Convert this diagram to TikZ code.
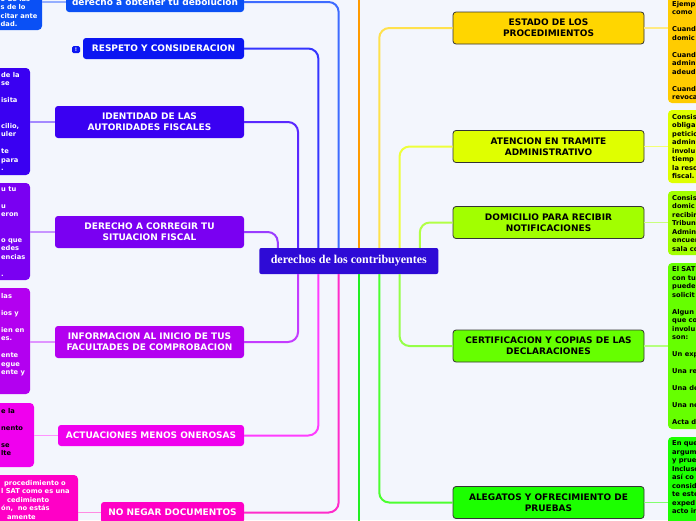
\documentclass[tikz,border=0pt]{standalone}
\usepackage{fontspec}
\setmainfont{DejaVu Sans}
\newfontfamily\rootfamily{Liberation Serif}
\newcommand{\rootfont}{\rootfamily\bfseries\fontsize{12}{14}\selectfont}
\newcommand{\topicfont}{\bfseries\fontsize{9}{11}\selectfont}
\newcommand{\memofont}{\bfseries\fontsize{6.7}{8.5}\selectfont}
\newcommand{\memogap}{\mbox{}}

\definecolor{bg}{HTML}{F3F6FD}
\definecolor{rootc}{HTML}{2E0BD6}
\definecolor{cObt}{HTML}{0A50F5}
\definecolor{cRes}{HTML}{0B16F2}
\definecolor{cIde}{HTML}{3A00F2}
\definecolor{cCor}{HTML}{7A00F2}
\definecolor{cInf}{HTML}{B300F0}
\definecolor{cAct}{HTML}{F000EE}
\definecolor{cNeg}{HTML}{FF00C6}
\definecolor{cEst}{HTML}{FFD600}
\definecolor{cEstN}{HTML}{FFCC00}
\definecolor{cAte}{HTML}{DFFF00}
\definecolor{cDom}{HTML}{A2FF00}
\definecolor{cCer}{HTML}{66FF00}
\definecolor{cAle}{HTML}{1CFF00}
\definecolor{lObt}{HTML}{3D6BFF}
\definecolor{lRes}{HTML}{3535FF}
\definecolor{lIde}{HTML}{5A28FF}
\definecolor{lCor}{HTML}{9A3CFF}
\definecolor{lInf}{HTML}{C43CFF}
\definecolor{lAct}{HTML}{FF3CFF}
\definecolor{lNeg}{HTML}{FF2CCB}
\definecolor{lOra}{HTML}{FF9A00}
\definecolor{lGrn}{HTML}{22EE22}
\definecolor{lEst}{HTML}{FFE14D}
\definecolor{lAte}{HTML}{EEFF3A}
\definecolor{lDom}{HTML}{B2FF45}
\definecolor{lCer}{HTML}{95FF48}
\definecolor{lAle}{HTML}{4CFF30}

\begin{document}
\begin{tikzpicture}[x=1pt, y=-1pt,
    topic/.style={rounded corners=3pt, inner sep=0pt, align=center, font=\topicfont},
    lefttopic/.style={topic, text=white},
    righttopic/.style={topic, draw=black!80, line width=0.8pt, text=black, minimum width=191pt, minimum height=32pt},
    memo/.style={rounded corners=4pt, inner sep=0pt},
    memotext/.style={anchor=north west, inner sep=0pt, align=left, font=\memofont},
    trunk/.style={line width=2pt, rounded corners=10pt},
    twig/.style={line width=1.2pt}]
      \fill[bg] (0,0) rectangle (696,520);
      \useasboundingbox (0,0) rectangle (696,520);

      \node[fill=rootc, text=white, rounded corners=2pt, minimum width=179pt, minimum height=26pt, font=\rootfont] (root) at (348.8,261) {derechos de los contribuyentes};

      % left side
      \node[memo, fill=cObt, minimum width=102pt, minimum height=60pt] (obtenermemo) at (-9,0) {};
      \node[memo, fill=cIde, minimum width=90pt, minimum height=107pt] (identidadmemo) at (-15,121.5) {};
      \node[memo, fill=cCor, minimum width=90pt, minimum height=97pt] (corregirmemo) at (-15,231.5) {};
      \node[memo, fill=cInf, minimum width=90pt, minimum height=106pt] (iniciomemo) at (-15,341) {};
      \node[memo, fill=cAct, minimum width=94pt, minimum height=64pt] (onerosasmemo) at (-13,435) {};
      \node[memo, fill=cNeg, minimum width=138pt, minimum height=70pt] (negarmemo) at (9,510) {};

      \node[memotext, text=white] (obtenertext) at (0.5,-5) {\strut o de las\\s de lo\\citar ante\\dad.};
      \node[memotext, text=white] (identidadtext) at (1,71) {\strut de la\\se\\\memogap\\isita\\\memogap\\\memogap\\cilio,\\uler\\\memogap\\te\\para\\.};
      \node[memotext, text=white] (corregirtext) at (1,185) {\strut u tu\\\memogap\\u\\eron\\\memogap\\\memogap\\o que\\edes\\encias\\\memogap\\.};
      \node[memotext, text=white] (iniciotext) at (1,292) {\strut las\\\memogap\\ios y\\\memogap\\ien en\\es.\\\memogap\\ente\\egue\\ente y};
      \node[memotext, text=black] (onerosastext) at (1,407) {\strut e la\\\memogap\\nento\\\memogap\\se\\lte};
      \node[memotext, text=white] (negartext) at (1,479) {\strut\hspace*{3pt}procedimiento o\\l SAT como es una\\\hspace*{6pt}cedimiento\\ón,\ \ no estás\\\hspace*{6pt}amente};

      \node[lefttopic, fill=cObt, minimum width=178pt, minimum height=20pt] (obtener) at (155,2) {derecho a obtener tu debolucion};
      \node[lefttopic, fill=cRes, minimum width=161pt, minimum height=21pt] (respeto) at (163.5,48.5) {RESPETO Y CONSIDERACION};
      \node[fill=cRes, rounded corners=1.5pt, minimum width=8pt, minimum height=7pt, inner sep=0pt, text=white, font=\bfseries\fontsize{5}{5}\selectfont] (respetoflag) at (76,49.5) {!};
      \node[lefttopic, fill=cIde, minimum width=189pt, minimum height=32pt] (identidad) at (149.5,122) {IDENTIDAD DE LAS\\AUTORIDADES FISCALES};
      \node[lefttopic, fill=cCor, minimum width=189pt, minimum height=32pt] (corregir) at (149.5,232) {DERECHO A CORREGIR TU\\SITUACION FISCAL};
      \node[lefttopic, fill=cInf, minimum width=189pt, minimum height=32pt] (inicio) at (149.5,342) {INFORMACION AL INICIO DE TUS\\FACULTADES DE COMPROBACION};
      \node[lefttopic, fill=cAct, minimum width=186pt, minimum height=21pt] (onerosas) at (151,435.5) {ACTUACIONES MENOS ONEROSAS};
      \node[lefttopic, fill=cNeg, minimum width=143pt, minimum height=21pt] (negar) at (172.5,512.5) {NO NEGAR DOCUMENTOS};

      % right side
      \node[memo, fill=cEstN, minimum width=62pt, minimum height=123pt] (estadomemo) at (699,41.5) {};
      \node[memo, fill=cAte, minimum width=62pt, minimum height=73pt] (atencionmemo) at (699,146.5) {};
      \node[memo, fill=cDom, minimum width=62pt, minimum height=64pt] (domiciliomemo) at (699,223) {};
      \node[memo, fill=cCer, minimum width=62pt, minimum height=166pt] (certificacionmemo) at (699,346) {};
      \node[memo, fill=cAle, minimum width=62pt, minimum height=108pt] (alegatosmemo) at (699,491) {};

      \node[memotext] (estadotext) at (672,0) {\strut Ejemp\\como\\\memogap\\Cuand\\domic\\\memogap\\Cuand\\admin\\adeud\\\memogap\\Cuand\\revoca};
      \node[memotext] (atenciontext) at (672,113) {\strut Consis\\obliga\\peticio\\admin\\involu\\tiemp\\la reso\\fiscal.};
      \node[memotext] (domiciliotext) at (672,194) {\strut Consis\\domic\\recibir\\Tribun\\Admin\\encuen\\sala co};
      \node[memotext] (certificaciontext) at (672,265.5) {\strut El SAT\\con tu\\puede\\solicit\\\memogap\\Algun\\que co\\involu\\son:\\\memogap\\Un exp\\\memogap\\Una re\\\memogap\\Una de\\\memogap\\Una ne\\\memogap\\Acta d};
      \node[memotext] (alegatostext) at (672,439.5) {\strut En que\\argum\\y prue\\Incluso\\así co\\consid\\te esté\\exped\\acto in};

      \node[righttopic, fill=cEst] (estado) at (548.5,28) {ESTADO DE LOS\\PROCEDIMIENTOS};
      \node[righttopic, fill=cAte] (atencion) at (548.5,146.5) {ATENCION EN TRAMITE\\ADMINISTRATIVO};
      \node[righttopic, fill=cDom] (domicilio) at (548.5,222.5) {DOMICILIO PARA RECIBIR\\NOTIFICACIONES};
      \node[righttopic, fill=cCer] (certificacion) at (548.5,346) {CERTIFICACION Y COPIAS DE LAS\\DECLARACIONES};
      \node[righttopic, fill=cAle] (alegatos) at (548.5,502.5) {ALEGATOS Y OFRECIMIENTO DE\\PRUEBAS};

      % twigs to the notes
      \draw[twig, draw=lObt!55!white] (obtenermemo.east |- obtener.west) -- (obtener.west);
      \draw[twig, draw=lIde!55!white] (identidadmemo.east |- identidad.west) -- (identidad.west);
      \draw[twig, draw=lCor!55!white] (corregirmemo.east |- corregir.west) -- (corregir.west);
      \draw[twig, draw=lInf!55!white] (iniciomemo.east |- inicio.west) -- (inicio.west);
      \draw[twig, draw=lAct!55!white] (onerosasmemo.east |- onerosas.west) -- (onerosas.west);
      \draw[twig, draw=lNeg!55!white] (negarmemo.east |- negar.west) -- (negar.west);
      \draw[twig, draw=lEst!70!white] (estado.east) -- (estado.east -| estadomemo.west);
      \draw[twig, draw=lAte!70!white] (atencion.east) -- (atencion.east -| atencionmemo.west);
      \draw[twig, draw=lDom!70!white] (domicilio.east) -- (domicilio.east -| domiciliomemo.west);
      \draw[twig, draw=lCer!70!white] (certificacion.east) -- (certificacion.east -| certificacionmemo.west);
      \draw[twig, draw=lAle!70!white] (alegatos.east) -- (alegatos.east -| alegatosmemo.west);

      % trunks from the root
      \coordinate (topend) at (0,-6);
      \coordinate (bottomend) at (0,526);
      \draw[trunk, draw=lObt] ([xshift=-10.15pt]root.north) |- (obtener.east);
      \draw[trunk, draw=lRes] ([xshift=-30.45pt]root.north) |- (respeto.east);
      \draw[trunk, draw=lIde] ([xshift=-50.75pt]root.north) |- (identidad.east);
      \draw[trunk, draw=lCor] ([xshift=-71.05pt]root.north) |- (corregir.east);
      \draw[trunk, draw=lInf] ([xshift=-50.75pt]root.south) |- (inicio.east);
      \draw[trunk, draw=lAct] ([xshift=-30.45pt]root.south) |- (onerosas.east);
      \draw[trunk, draw=lNeg] ([xshift=-10.15pt]root.south) |- (negar.east);
      \draw[trunk, draw=lOra] ([xshift=10.15pt]root.north) -- ([xshift=10.15pt]root.north |- topend);
      \draw[trunk, draw=lGrn] ([xshift=10.15pt]root.south) -- ([xshift=10.15pt]root.south |- bottomend);
      \draw[trunk, draw=lEst] ([xshift=30.45pt]root.north) |- (estado.west);
      \draw[trunk, draw=lAte] ([xshift=50.75pt]root.north) |- (atencion.west);
      \draw[trunk, draw=lDom] ([xshift=71.05pt]root.north) |- (domicilio.west);
      \draw[trunk, draw=lCer] ([xshift=50.75pt]root.south) |- (certificacion.west);
      \draw[trunk, draw=lAle] ([xshift=30.45pt]root.south) |- (alegatos.west);
\end{tikzpicture}
\end{document}
